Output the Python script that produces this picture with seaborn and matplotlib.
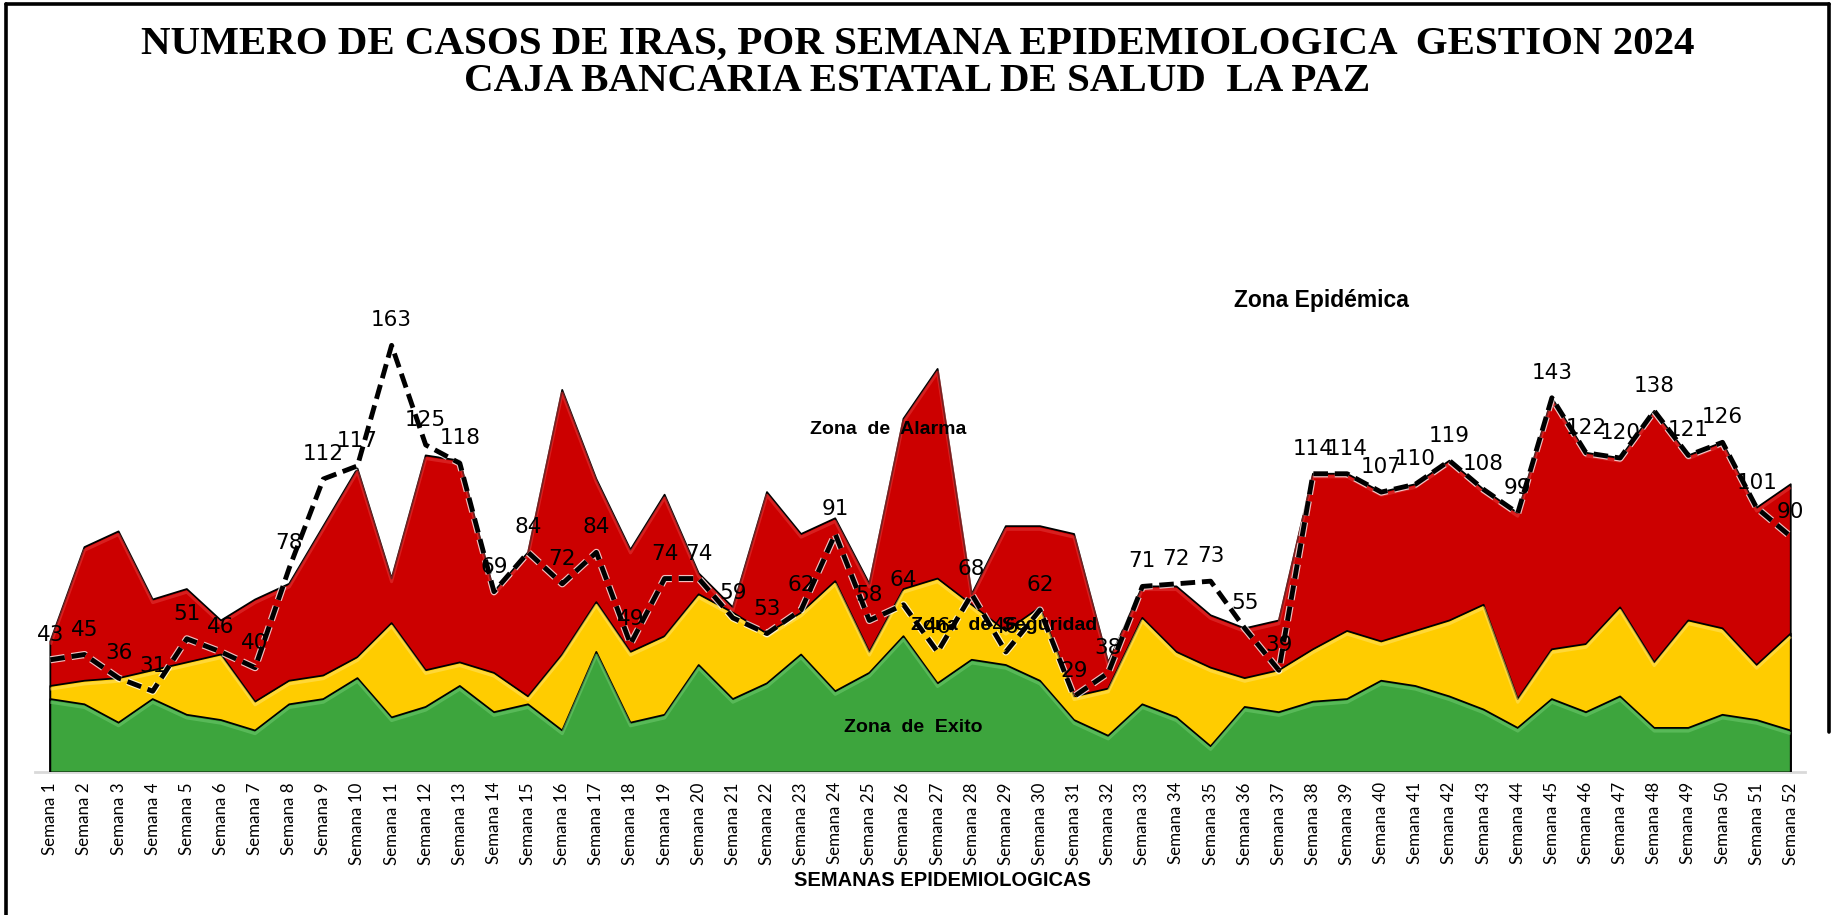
import numpy as np
import pandas as pd
import matplotlib
matplotlib.use("Agg")
import matplotlib.pyplot as plt
import matplotlib.patheffects as pe
from matplotlib.lines import Line2D
import seaborn as sns

# Weekly data, epidemiological year 2024
semanas = [f"Semana {i}" for i in range(1, 53)]

casos = [43, 45, 36, 31, 51, 46, 40, 78, 112, 117, 163, 125, 118, 69, 84, 72,
         84, 49, 74, 74, 59, 53, 62, 91, 58, 64, 46, 68, 46, 62, 29, 38, 71,
         72, 73, 55, 39, 114, 114, 107, 110, 119, 108, 99, 143, 122, 120, 138,
         121, 126, 101, 90]

zona_alarma = [50, 86, 92, 66, 70, 58, 66, 72, 94, 116, 74, 121, 119, 69, 84,
               146, 112, 85, 106, 76, 63, 107, 91, 97, 72, 135, 154, 68, 94, 94,
               91, 42, 71, 71, 60, 55, 58, 114, 114, 107, 110, 119, 108, 99,
               143, 122, 120, 138, 121, 126, 101, 110]

zona_seguridad = [33, 35, 36, 39, 42, 45, 27, 35, 37, 44, 57, 39, 42, 38, 29,
                  45, 65, 46, 52, 68, 61, 53, 61, 73, 46, 70, 74, 64, 54, 63,
                  29, 32, 59, 46, 40, 36, 39, 47, 54, 50, 54, 58, 64, 28, 47,
                  49, 63, 42, 58, 55, 41, 53]

zona_exito = [28, 26, 19, 28, 22, 20, 16, 26, 28, 36, 21, 25, 33, 23, 26, 16,
              46, 19, 22, 41, 28, 34, 45, 31, 38, 52, 34, 43, 41, 35, 20, 14,
              26, 21, 10, 25, 23, 27, 28, 35, 33, 29, 24, 17, 28, 23, 29, 17,
              17, 22, 20, 16]

titulo = ("NUMERO DE CASOS DE IRAS, POR SEMANA EPIDEMIOLOGICA  GESTION 2024\n"
          "CAJA BANCARIA ESTATAL DE SALUD  LA PAZ")

sns.set_theme(style="white")
plt.rcParams["font.family"] = ["DejaVu Sans"]

fig = plt.figure(figsize=(18.35, 9.15), dpi=100)
ax = fig.add_axes([0.0191, 0.1558, 0.9646, 0.5727])

semana_num = np.arange(1, len(semanas) + 1)
df = pd.DataFrame({"semana": semana_num, "casos": casos})

zonas = [
    (zona_alarma, "#CC0000", "#E23A3A"),
    (zona_seguridad, "#FFCC00", "#FFE266"),
    (zona_exito, "#3DA53D", "#6FCB6F"),
]
for z, (valores, color, brillo) in enumerate(zonas):
    ax.fill_between(semana_num, 0, valores, facecolor=color, edgecolor="black",
                    linewidth=1.3, zorder=2 + z,
                    path_effects=[pe.SimplePatchShadow(offset=(0, -2), alpha=0.25),
                                  pe.Normal()])
    # soft bevel highlight just under the upper edge
    ax.plot(semana_num, np.array(valores) - 1.2, color=brillo, linewidth=2.2,
            alpha=0.55, zorder=2 + z, solid_capstyle="butt")

sns.lineplot(data=df, x="semana", y="casos", ax=ax, color="black",
             linewidth=3.5, zorder=6)
linea = ax.lines[-1]
linea.set_dashes([3.0, 1.4])
linea.set_path_effects([pe.Stroke(linewidth=5.2, foreground="white", alpha=0.75),
                        pe.Normal()])

for sx, v in zip(semana_num, casos):
    ax.annotate(str(v), (sx, v), xytext=(0, 18), textcoords="offset points",
                ha="center", va="center", fontsize=15.5, color="black", zorder=7)

zona_txt = dict(fontweight="bold", family="Liberation Sans", color="black",
                ha="center", va="center", zorder=8)
ax.text(38.26, 180.3, "Zona Epidémica", fontsize=16.5, **zona_txt)
ax.text(25.54, 130.7, "Zona  de  Alarma", fontsize=14, **zona_txt)
ax.text(28.94, 55.9, "Zona  de  Seguridad", fontsize=14, **zona_txt)
ax.text(26.3, 17.3, "Zona  de  Exito", fontsize=14, **zona_txt)

ax.set_xlim(0.552, 52.42)
ax.set_ylim(0, 200)
ax.set_xticks(semana_num)
ax.set_xticklabels(semanas, rotation=90, fontsize=12.2, family="Lato",
                   color="black")
ax.set_yticks([])
ax.tick_params(axis="x", length=0, pad=7)
ax.set_xlabel("")
ax.set_ylabel("")
for lado in ("left", "right", "top"):
    ax.spines[lado].set_visible(False)
ax.spines["bottom"].set_color("#D9D9D9")
ax.spines["bottom"].set_linewidth(2)
ax.spines["bottom"].set_zorder(1)

fig.text(0.5, 1 - 63 / 915, titulo, ha="center", va="center", fontsize=29.5,
         fontweight="bold", family="Liberation Serif", linespacing=1.0,
         color="black")
fig.text(942 / 1835, 1 - 880 / 915, "SEMANAS EPIDEMIOLOGICAS", ha="center",
         va="center", fontsize=14.5, fontweight="bold", family="Liberation Sans",
         color="black")

# outer frame
marco = dict(color="black", linewidth=2.6, transform=fig.transFigure)
fig.add_artist(Line2D([0.0035, 0.0035], [0, 0.996], **marco))
fig.add_artist(Line2D([0.0035, 0.9965], [0.996, 0.996], **marco))
fig.add_artist(Line2D([0.9965, 0.9965], [0.2, 0.996], **marco))

fig.savefig("out.png", dpi=100, facecolor="white")
